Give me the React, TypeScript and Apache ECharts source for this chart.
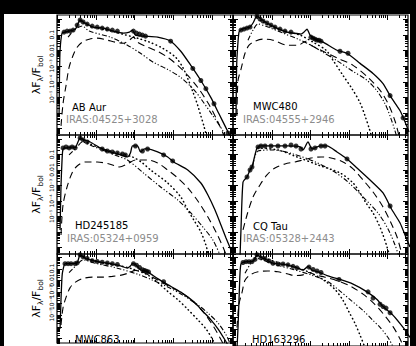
import React, { useEffect, useRef } from 'react';
import * as echarts from 'echarts';

// ---------- Panel labels ----------
const starNames = ['AB Aur', 'MWC480', 'HD245185', 'CQ Tau', 'MWC863', 'HD163296'];
const irasNames = ['IRAS:04525+3028', 'IRAS:04555+2946', 'IRAS:05324+0959', 'IRAS:05328+2443', '', ''];

// ---------- Axis ticks (wavelength in micron, lambda F_lambda / F_bol) ----------
const xMin = 0.1;
const xMax = 3500;
const yMin = 3.8e-8;
const yMax = 1.8;
const xMajorTicks = [0.1, 1, 10, 100, 1000];
const yMajorTicks = [1e-8, 1e-7, 1e-6, 1e-5, 1e-4, 1e-3, 0.01, 0.1, 1];
const minorSteps = [2, 3, 4, 5, 6, 7, 8, 9];
const yTickLabels: Record<string, string> = {
  '-5': '10⁻⁵',
  '-4': '10⁻⁴',
  '-3': '10⁻³',
  '-2': '0.01',
  '-1': '0.1',
};

// ---------- AB Aur ----------
const abAurModel = [[0.113, 6.4e-7], [0.116, 2.4e-4], [0.12, 0.01], [0.135, 0.125], [0.161, 0.145], [0.205, 0.168], [0.261, 0.195], [0.311, 0.263], [0.395, 0.862], [0.533, 0.552], [0.861, 0.305], [1.57, 0.263], [2.85, 0.168], [5.18, 0.125], [7.41, 0.145], [8.87, 0.195], [10.6, 0.093], [17.1, 0.08], [39.6, 0.069], [86, 0.038], [157, 0.0086], [285, 0.00108], [518, 1.16e-4], [942, 9.3e-6], [1520, 8.6e-7], [2310, 1.08e-7], [3120, 2.4e-8]];
const abAurObs = [[0.152, 0.145], [0.182, 0.168], [0.218, 0.168], [0.261, 0.195], [0.331, 0.41], [0.395, 0.862], [0.473, 0.64], [0.601, 0.475], [0.81, 0.353], [1.09, 0.305], [1.47, 0.263], [1.99, 0.226], [2.68, 0.195], [3.62, 0.168], [9.42, 0.168], [11.3, 0.125], [13.5, 0.108], [16.1, 0.093], [19.3, 0.08], [86, 0.038], [321, 6.9e-4], [518, 1.16e-4], [698, 3.5e-5], [1130, 3.8e-6], [2600, 5.1e-8]];
const abAurDotted = [[0.395, 0.743], [0.81, 0.305], [1.99, 0.195], [4.88, 0.108], [12.0, 0.0594], [24.5, 0.0328], [53.4, 0.0135], [116, 0.00353], [177, 8.0e-4], [238, 1.56e-4], [321, 2.26e-5], [433, 2.83e-6], [518, 6.4e-7], [620, 1.45e-7], [741, 2.4e-8]];
const abAurDashDot = [[0.193, 0.069], [0.261, 0.168], [0.331, 0.263], [0.446, 0.353], [0.678, 0.168], [2.38, 0.069], [6.58, 0.021], [14.3, 0.0064], [31.1, 0.00168], [72, 5.9e-4], [157, 1.81e-4], [341, 3.05e-5], [518, 8.0e-6], [1060, 6.4e-7], [1930, 6.9e-8], [2310, 2.4e-8]];
const abAurDashed = [[0.127, 1.45e-7], [0.143, 3.8e-6], [0.171, 5.5e-5], [0.205, 8.0e-4], [0.261, 0.00475], [0.331, 0.0156], [0.446, 0.0328], [0.678, 0.0513], [1.09, 0.0594], [1.99, 0.0442], [3.21, 0.0328], [5.18, 0.0283], [7.41, 0.0442], [9.42, 0.069], [12.0, 0.0328], [21.8, 0.0156], [39.6, 0.0086], [72, 0.00353], [131, 0.00108], [238, 2.44e-4], [433, 4.1e-5], [787, 4.4e-6], [1270, 4.75e-7], [1820, 6.9e-8], [2180, 2.4e-8]];

// ---------- MWC480 ----------
const mwc480Model = [[0.12, 6.4e-7], [0.123, 2.44e-4], [0.127, 0.00353], [0.143, 0.145], [0.171, 0.226], [0.218, 0.263], [0.277, 0.305], [0.331, 0.552], [0.42, 1.56], [0.533, 1.0], [0.763, 0.552], [1.39, 0.263], [2.52, 0.145], [3.62, 0.125], [5.83, 0.108], [6.98, 0.145], [8.36, 0.226], [10.0, 0.093], [13.5, 0.0513], [21.8, 0.0328], [50.2, 0.01], [91.4, 0.0064], [199, 0.00145], [433, 3.3e-4], [787, 7.4e-5], [1200, 1.25e-5], [1710, 3.3e-6], [2180, 1.35e-6], [2940, 2.62e-7], [3720, 5.9e-8]];
const mwc480Obs = [[0.161, 0.195], [0.193, 0.226], [0.231, 0.263], [0.277, 0.305], [0.42, 1.56], [0.502, 1.0], [0.601, 0.743], [0.763, 0.552], [0.97, 0.41], [1.23, 0.305], [1.66, 0.226], [2.24, 0.168], [3.21, 0.145], [10.6, 0.069], [12.0, 0.0594], [13.5, 0.0513], [15.2, 0.0442], [17.1, 0.0442], [19.3, 0.0381], [60.1, 0.0086], [97, 0.0064], [1200, 1.25e-5], [2600, 4.75e-7]];
const mwc480Dotted = [[0.42, 1.16], [0.601, 0.64], [1.47, 0.226], [5.5, 0.093], [12.0, 0.0328], [26.1, 0.01], [39.6, 0.00226], [72, 2.44e-4], [123, 3.5e-5], [199, 4.4e-6], [268, 6.4e-7], [341, 1.08e-7], [408, 2.4e-8]];
const mwc480DashDot = [[0.245, 0.0442], [0.331, 0.195], [0.446, 0.475], [0.81, 0.305], [1.99, 0.125], [4.88, 0.0513], [10.6, 0.021], [21.8, 0.0074], [53.4, 0.00195], [131, 4.4e-4], [285, 1.35e-4], [518, 3.05e-5], [887, 3.8e-6], [1270, 4.1e-7], [1610, 6.9e-8], [1820, 2.4e-8]];
const mwc480Dashed = [[0.127, 6.4e-7], [0.135, 1.16e-4], [0.161, 5.9e-4], [0.205, 0.0064], [0.261, 0.021], [0.372, 0.0381], [0.601, 0.0513], [1.09, 0.0442], [2.68, 0.021], [4.88, 0.021], [7.87, 0.0381], [10.6, 0.021], [21.8, 0.0086], [53.4, 0.00305], [131, 0.00108], [321, 1.81e-4], [698, 2.26e-5], [1130, 2.83e-6], [1610, 3.0e-7], [2050, 3.3e-8]];

// ---------- HD245185 ----------
const hd245185Model = [[0.12, 1.35e-6], [0.127, 0.00108], [0.135, 0.0442], [0.143, 0.226], [0.171, 0.263], [0.205, 0.263], [0.245, 0.305], [0.293, 0.263], [0.331, 0.475], [0.395, 1.16], [0.502, 0.862], [0.719, 0.64], [1.31, 0.263], [2.38, 0.145], [4.33, 0.093], [6.58, 0.069], [7.87, 0.125], [8.87, 0.353], [12.0, 0.353], [14.3, 0.145], [18.2, 0.226], [21.8, 0.226], [39.6, 0.145], [72, 0.069], [103, 0.0328], [238, 0.01], [518, 0.00145], [787, 2.44e-4], [1200, 2.6e-5], [1710, 2.83e-6], [2310, 4.1e-7], [3120, 6.9e-8], [3720, 2.4e-8]];
const hd245185Obs = [[0.143, 0.263], [0.171, 0.305], [0.205, 0.263], [0.245, 0.305], [0.293, 0.263], [0.395, 1.16], [0.473, 0.862], [0.601, 0.64], [1.47, 0.226], [1.99, 0.168], [2.68, 0.145], [3.62, 0.125], [4.88, 0.108], [5.83, 0.093], [10.6, 0.353], [16.1, 0.168], [21.8, 0.226], [56.6, 0.093], [97, 0.0381]];
const hd245185Dotted = [[0.395, 1.0], [1.09, 0.305], [3.62, 0.125], [8.87, 0.069], [16.1, 0.0283], [26.1, 0.01], [72, 0.00145], [157, 1.81e-4], [238, 2.6e-5], [341, 5.9e-6], [518, 1.0e-6], [698, 1.45e-7], [835, 2.4e-8]];
const hd245185DashDot = [[0.205, 0.093], [0.331, 0.305], [0.446, 0.64], [0.81, 0.353], [1.99, 0.145], [3.62, 0.08], [6.58, 0.0442], [17.1, 0.0064], [47.3, 8.0e-4], [131, 1.16e-4], [285, 1.68e-5], [583, 2.1e-6], [1060, 3.0e-7], [1710, 2.4e-8]];
const hd245185Dashed = [[0.127, 6.4e-7], [0.143, 5.5e-5], [0.182, 8.0e-4], [0.245, 0.0064], [0.331, 0.0181], [0.533, 0.0328], [1.09, 0.0328], [2.24, 0.0244], [4.08, 0.0156], [6.58, 0.0244], [10.6, 0.0442], [21.8, 0.0442], [39.6, 0.0283], [72, 0.01], [131, 0.00305], [238, 6.9e-4], [433, 1.0e-4], [787, 9.3e-6], [1270, 1.0e-6], [1930, 1.08e-7], [2450, 2.4e-8]];

// ---------- CQ Tau ----------
const cqTauModel = [[0.152, 2.4e-8], [0.161, 1.35e-6], [0.182, 0.00168], [0.231, 0.00353], [0.277, 0.01], [0.311, 0.0156], [0.372, 0.093], [0.42, 0.263], [0.502, 0.353], [1.09, 0.353], [2.68, 0.353], [5.5, 0.305], [6.58, 0.195], [8.87, 0.64], [11.3, 0.226], [18.2, 0.353], [27.6, 0.353], [50.2, 0.145], [91.4, 0.0513], [166, 0.0135], [362, 0.00226], [787, 3.3e-4], [1350, 2.6e-5], [2180, 3.8e-6], [3310, 3.0e-7], [3950, 1.08e-7]];
const cqTauObs = [[0.231, 0.00353], [0.277, 0.01], [0.311, 0.0156], [0.446, 0.305], [0.533, 0.353], [0.678, 0.353], [0.97, 0.353], [1.47, 0.353], [2.24, 0.353], [3.21, 0.41], [4.33, 0.353], [5.83, 0.226], [10.6, 0.226], [13.5, 0.263], [19.3, 0.353], [24.5, 0.353], [91.4, 0.0513], [1200, 4.75e-5]];
const cqTauDotted = [[0.446, 0.263], [1.47, 0.195], [4.59, 0.069], [16.1, 0.021], [60.1, 0.0064], [131, 0.00145], [199, 3.3e-4], [285, 7.4e-5], [433, 1.68e-5], [620, 2.83e-6], [787, 6.4e-7], [1000, 1.08e-7], [1200, 2.4e-8]];
const cqTauDashDot = [[0.331, 0.021], [0.446, 0.168], [1.09, 0.195], [3.62, 0.108], [12.0, 0.0381], [39.6, 0.0086], [97, 0.00168], [238, 1.81e-4], [583, 1.68e-5], [1060, 1.56e-6], [1610, 1.45e-7], [2050, 2.4e-8]];
const cqTauDashed = [[0.182, 1.35e-6], [0.231, 1.25e-5], [0.331, 1.81e-4], [0.502, 0.00108], [0.763, 0.00475], [1.23, 0.0135], [2.24, 0.0244], [4.08, 0.0328], [6.58, 0.0442], [10.6, 0.0594], [19.3, 0.069], [35.1, 0.0594], [72, 0.0328], [131, 0.0116], [238, 0.00226], [433, 3.8e-4], [787, 4.1e-5], [1270, 3.8e-6], [1820, 4.75e-7], [2450, 3.3e-8]];

// ---------- MWC863 ----------
const mwc863Model = [[0.12, 6.4e-7], [0.127, 2.44e-4], [0.135, 0.021], [0.143, 0.08], [0.161, 0.263], [0.193, 0.263], [0.245, 0.263], [0.331, 0.305], [0.395, 1.56], [0.502, 0.862], [0.719, 0.552], [1.31, 0.353], [2.38, 0.263], [4.33, 0.168], [6.58, 0.108], [7.87, 0.168], [8.87, 0.263], [10.6, 0.226], [14.3, 0.08], [21.8, 0.0513], [39.6, 0.0135], [72, 0.0041], [157, 9.3e-4], [341, 1.35e-4], [620, 1.68e-5], [942, 3.8e-6], [1430, 6.4e-7], [2180, 6.9e-8], [2600, 2.4e-8]];
const mwc863Obs = [[0.161, 0.263], [0.193, 0.263], [0.231, 0.263], [0.293, 0.263], [0.331, 0.305], [0.395, 1.56], [0.473, 1.0], [0.601, 0.743], [0.81, 0.475], [1.09, 0.41], [1.47, 0.353], [1.99, 0.305], [2.68, 0.263], [3.62, 0.226], [9.42, 0.263], [11.3, 0.195], [13.5, 0.125], [16.1, 0.08], [18.2, 0.069], [20.5, 0.0594], [23.1, 0.0513], [56.6, 0.0074]];
const mwc863Dotted = [[0.395, 1.35], [1.09, 0.41], [3.62, 0.195], [8.87, 0.093], [21.8, 0.0283], [39.6, 0.0064], [72, 0.00108], [131, 2.1e-4], [238, 3.05e-5], [433, 3.8e-6], [698, 6.4e-7], [1060, 6.9e-8], [1200, 2.4e-8]];
const mwc863DashDot = [[0.205, 0.0442], [0.331, 0.226], [0.473, 0.552], [1.09, 0.263], [3.62, 0.108], [12.0, 0.0328], [29.4, 0.01], [72, 0.00262], [177, 5.1e-4], [433, 7.4e-5], [787, 1.45e-5], [1430, 2.1e-6], [2310, 1.95e-7], [2940, 3.3e-8]];
const mwc863Dashed = [[0.127, 1.35e-6], [0.143, 4.1e-5], [0.171, 3.3e-4], [0.218, 0.00226], [0.293, 0.0064], [0.446, 0.0135], [0.81, 0.0181], [1.47, 0.0181], [2.68, 0.021], [4.88, 0.0283], [7.41, 0.0442], [10.6, 0.069], [16.1, 0.0513], [29.4, 0.0181], [72, 0.00353], [177, 6.9e-4], [384, 8.6e-5], [698, 9.3e-6], [1130, 8.6e-7], [1610, 1.08e-7], [2050, 2.4e-8]];

// ---------- HD163296 ----------
const hd163296Model = [[0.127, 2.4e-8], [0.135, 1.35e-6], [0.143, 2.44e-4], [0.152, 0.0442], [0.161, 0.263], [0.182, 0.353], [0.231, 0.41], [0.293, 0.41], [0.351, 0.552], [0.42, 1.56], [0.566, 0.862], [0.763, 0.552], [1.09, 0.305], [2.52, 0.226], [4.59, 0.125], [6.58, 0.08], [7.87, 0.125], [8.87, 0.168], [11.3, 0.08], [18.2, 0.0513], [27.6, 0.0283], [60.1, 0.0135], [131, 0.0055], [302, 0.00125], [550, 2.83e-4], [787, 7.4e-5], [1350, 1.68e-5], [2180, 2.83e-6], [3120, 6.4e-7], [3950, 1.95e-7]];
const hd163296Obs = [[0.182, 0.353], [0.218, 0.41], [0.261, 0.41], [0.311, 0.41], [0.372, 0.64], [0.42, 1.56], [0.533, 0.862], [0.678, 0.743], [0.861, 0.475], [1.09, 0.305], [1.47, 0.263], [1.99, 0.263], [2.68, 0.226], [3.62, 0.168], [4.59, 0.125], [9.42, 0.145], [12.0, 0.093], [15.2, 0.069], [19.3, 0.0513], [56.6, 0.0135], [321, 0.00125], [433, 3.8e-4], [658, 1.16e-4], [787, 7.4e-5], [942, 5.5e-5], [1200, 2.26e-5]];
const hd163296Dotted = [[0.42, 1.35], [1.47, 0.353], [4.88, 0.125], [12.0, 0.0381], [24.5, 0.01], [44.6, 0.00195], [72, 2.44e-4], [103, 2.6e-5], [148, 2.83e-6], [199, 3.0e-7], [253, 4.4e-8], [268, 2.4e-8]];
const hd163296DashDot = [[0.205, 0.0442], [0.293, 0.305], [0.42, 0.743], [1.09, 0.263], [3.62, 0.093], [12.0, 0.0283], [29.4, 0.0086], [60.1, 0.00145], [116, 2.44e-4], [238, 3.5e-5], [433, 5.1e-6], [658, 1.35e-6], [1060, 1.95e-7], [1430, 3.3e-8]];
const hd163296Dashed = [[0.127, 1.35e-6], [0.143, 1.16e-4], [0.171, 0.00108], [0.205, 0.0116], [0.277, 0.0328], [0.446, 0.0594], [0.81, 0.069], [1.47, 0.0594], [2.68, 0.0381], [4.08, 0.0283], [6.58, 0.0328], [9.42, 0.0513], [13.5, 0.0328], [24.5, 0.021], [53.4, 0.01], [116, 0.00353], [238, 8.0e-4], [433, 1.56e-4], [787, 1.95e-5], [1430, 1.56e-6], [2180, 1.45e-7], [2760, 2.4e-8]];

const panelModels = [abAurModel, mwc480Model, hd245185Model, cqTauModel, mwc863Model, hd163296Model];
const panelObs = [abAurObs, mwc480Obs, hd245185Obs, cqTauObs, mwc863Obs, hd163296Obs];
const panelDotted = [abAurDotted, mwc480Dotted, hd245185Dotted, cqTauDotted, mwc863Dotted, hd163296Dotted];
const panelDashDot = [abAurDashDot, mwc480DashDot, hd245185DashDot, cqTauDashDot, mwc863DashDot, hd163296DashDot];
const panelDashed = [abAurDashed, mwc480Dashed, hd245185Dashed, cqTauDashed, mwc863Dashed, hd163296Dashed];

// ---------- Layout (pixels) ----------
const colLeft = [57, 233];
const colWidth = [176, 175];
const rowTop = [15, 135, 254];
const rowHeight = [120, 119, 119];
const nameLeft = [72, 253, 75, 253, 75, 252];
const nameMidY = [107, 106, 225.5, 226, 339.5, 339.5];
const irasLeft = [66, 243, 67, 243];
const irasMidY = [119, 119, 238, 238];

const FONT = 'DejaVu Sans, Liberation Sans, sans-serif';

function buildTickData() {
  const data: number[][] = [];
  xMajorTicks.forEach((m) => {
    data.push([m, 1e-3, 0]);
    minorSteps.forEach((k) => {
      const v = m * k;
      if (v < xMax) data.push([v, 1e-3, 1]);
    });
  });
  yMajorTicks.forEach((m) => {
    if (m >= yMin && m <= yMax) data.push([1, m, 2]);
    minorSteps.forEach((k) => {
      const v = m * k;
      if (v >= yMin && v <= yMax) data.push([1, v, 3]);
    });
  });
  return data;
}

function buildOption() {
  const grids: any[] = [];
  const xAxes: any[] = [];
  const yAxes: any[] = [];
  const series: any[] = [];
  const tickData = buildTickData();
  const black = '#000';

  for (let i = 0; i < 6; i++) {
    const row = Math.floor(i / 2);
    const col = i % 2;
    grids.push({
      left: colLeft[col],
      top: rowTop[row],
      width: colWidth[col],
      height: rowHeight[row],
      show: true,
      borderColor: black,
      borderWidth: 1.2,
      backgroundColor: 'transparent',
    });
    xAxes.push({
      type: 'log',
      logBase: 10,
      gridIndex: i,
      min: xMin,
      max: xMax,
      axisLine: { show: false },
      axisTick: { show: false },
      axisLabel: { show: false },
      splitLine: { show: false },
    });
    const isLeft = col === 0;
    yAxes.push({
      type: 'log',
      logBase: 10,
      gridIndex: i,
      min: yMin,
      max: yMax,
      axisLine: { show: false },
      axisTick: { show: false },
      splitLine: { show: false },
      axisLabel: {
        show: isLeft,
        rotate: 90,
        margin: 3,
        fontSize: 6,
        fontFamily: FONT,
        color: black,
        formatter: (v: number) => {
          const e = Math.round(Math.log10(v));
          if (Math.abs(Math.log10(v) - e) > 0.01) return '';
          return yTickLabels[String(e)] || '';
        },
      },
      name: isLeft ? '{m|λF}{s|λ}{m|/F}{s|bol}' : '',
      nameLocation: 'middle',
      nameGap: 13,
      nameTextStyle: {
        color: black,
        fontFamily: FONT,
        rich: {
          m: { fontSize: 11, lineHeight: 16, fontFamily: FONT, color: black },
          s: { fontSize: 7.5, lineHeight: 8, verticalAlign: 'bottom', fontFamily: FONT, color: black },
        },
      },
    });

    const common = { xAxisIndex: i, yAxisIndex: i, showSymbol: false, symbol: 'none', clip: true, silent: true };
    series.push({
      ...common, type: 'line', name: starNames[i] + ' dashed', data: panelDashed[i], smooth: 0.3,
      lineStyle: { color: black, width: 1.1, type: [7, 4.5] },
    });
    series.push({
      ...common, type: 'line', name: starNames[i] + ' dash-dot', data: panelDashDot[i], smooth: 0.3,
      lineStyle: { color: black, width: 1.1, type: [5, 2, 1.2, 2, 1.2, 2] },
    });
    series.push({
      ...common, type: 'line', name: starNames[i] + ' dotted', data: panelDotted[i], smooth: 0.3,
      lineStyle: { color: black, width: 1.5, type: [0.5, 3.5], cap: 'round' },
    });
    series.push({
      ...common, type: 'line', name: starNames[i] + ' model', data: panelModels[i], smooth: 0.2,
      lineStyle: { color: black, width: 1.3, type: 'solid' },
    });
    series.push({
      type: 'scatter', xAxisIndex: i, yAxisIndex: i, name: starNames[i] + ' data', data: panelObs[i],
      symbol: 'circle', symbolSize: 5, itemStyle: { color: black }, clip: true, silent: true,
    });
    series.push({
      type: 'custom', xAxisIndex: i, yAxisIndex: i, name: 'ticks' + i, data: tickData, clip: false, silent: true,
      renderItem: (params: any, api: any) => {
        const cs = params.coordSys;
        const kind = api.value(2);
        const style = { stroke: black, lineWidth: 1 };
        if (kind < 2) {
          const x = Math.round(api.coord([api.value(0), api.value(1)])[0]) + 0.5;
          const len = kind === 0 ? 5 : 3;
          return {
            type: 'group',
            children: [
              { type: 'line', shape: { x1: x, y1: cs.y, x2: x, y2: cs.y + len }, style },
              { type: 'line', shape: { x1: x, y1: cs.y + cs.height, x2: x, y2: cs.y + cs.height - len }, style },
            ],
          };
        }
        const y = Math.round(api.coord([api.value(0), api.value(1)])[1]) + 0.5;
        const len = kind === 2 ? 5 : 3;
        return {
          type: 'group',
          children: [
            { type: 'line', shape: { x1: cs.x, y1: y, x2: cs.x + len, y2: y }, style },
            { type: 'line', shape: { x1: cs.x + cs.width, y1: y, x2: cs.x + cs.width - len, y2: y }, style },
          ],
        };
      },
    });
  }

  const graphics: any[] = [];
  starNames.forEach((n, i) => {
    graphics.push({
      type: 'text', x: nameLeft[i], y: nameMidY[i], silent: true,
      style: { text: n, fill: '#000', font: `10px ${FONT}`, textAlign: 'left', textVerticalAlign: 'middle' },
    });
  });
  irasNames.forEach((n, i) => {
    if (!n) return;
    graphics.push({
      type: 'text', x: irasLeft[i], y: irasMidY[i], silent: true,
      style: { text: n, fill: '#8c8c8c', font: `10px ${FONT}`, textAlign: 'left', textVerticalAlign: 'middle' },
    });
  });

  return {
    animation: false,
    backgroundColor: 'transparent',
    grid: grids,
    xAxis: xAxes,
    yAxis: yAxes,
    series,
    graphic: graphics,
  };
}

export default function App() {
  const ref = useRef<HTMLDivElement>(null);
  useEffect(() => {
    if (!ref.current) return;
    const chart = echarts.init(ref.current, undefined, { renderer: 'svg' });
    chart.setOption(buildOption() as any);
    return () => chart.dispose();
  }, []);
  return (
    <div style={{ position: 'fixed', left: 0, top: 0, width: 416, height: 346, background: '#000', overflow: 'hidden' }}>
      <div style={{ position: 'absolute', left: 4, top: 14, width: 406, height: 332, background: '#fff' }} />
      <div ref={ref} style={{ position: 'absolute', left: 0, top: 0, width: 416, height: 346 }} />
    </div>
  );
}
